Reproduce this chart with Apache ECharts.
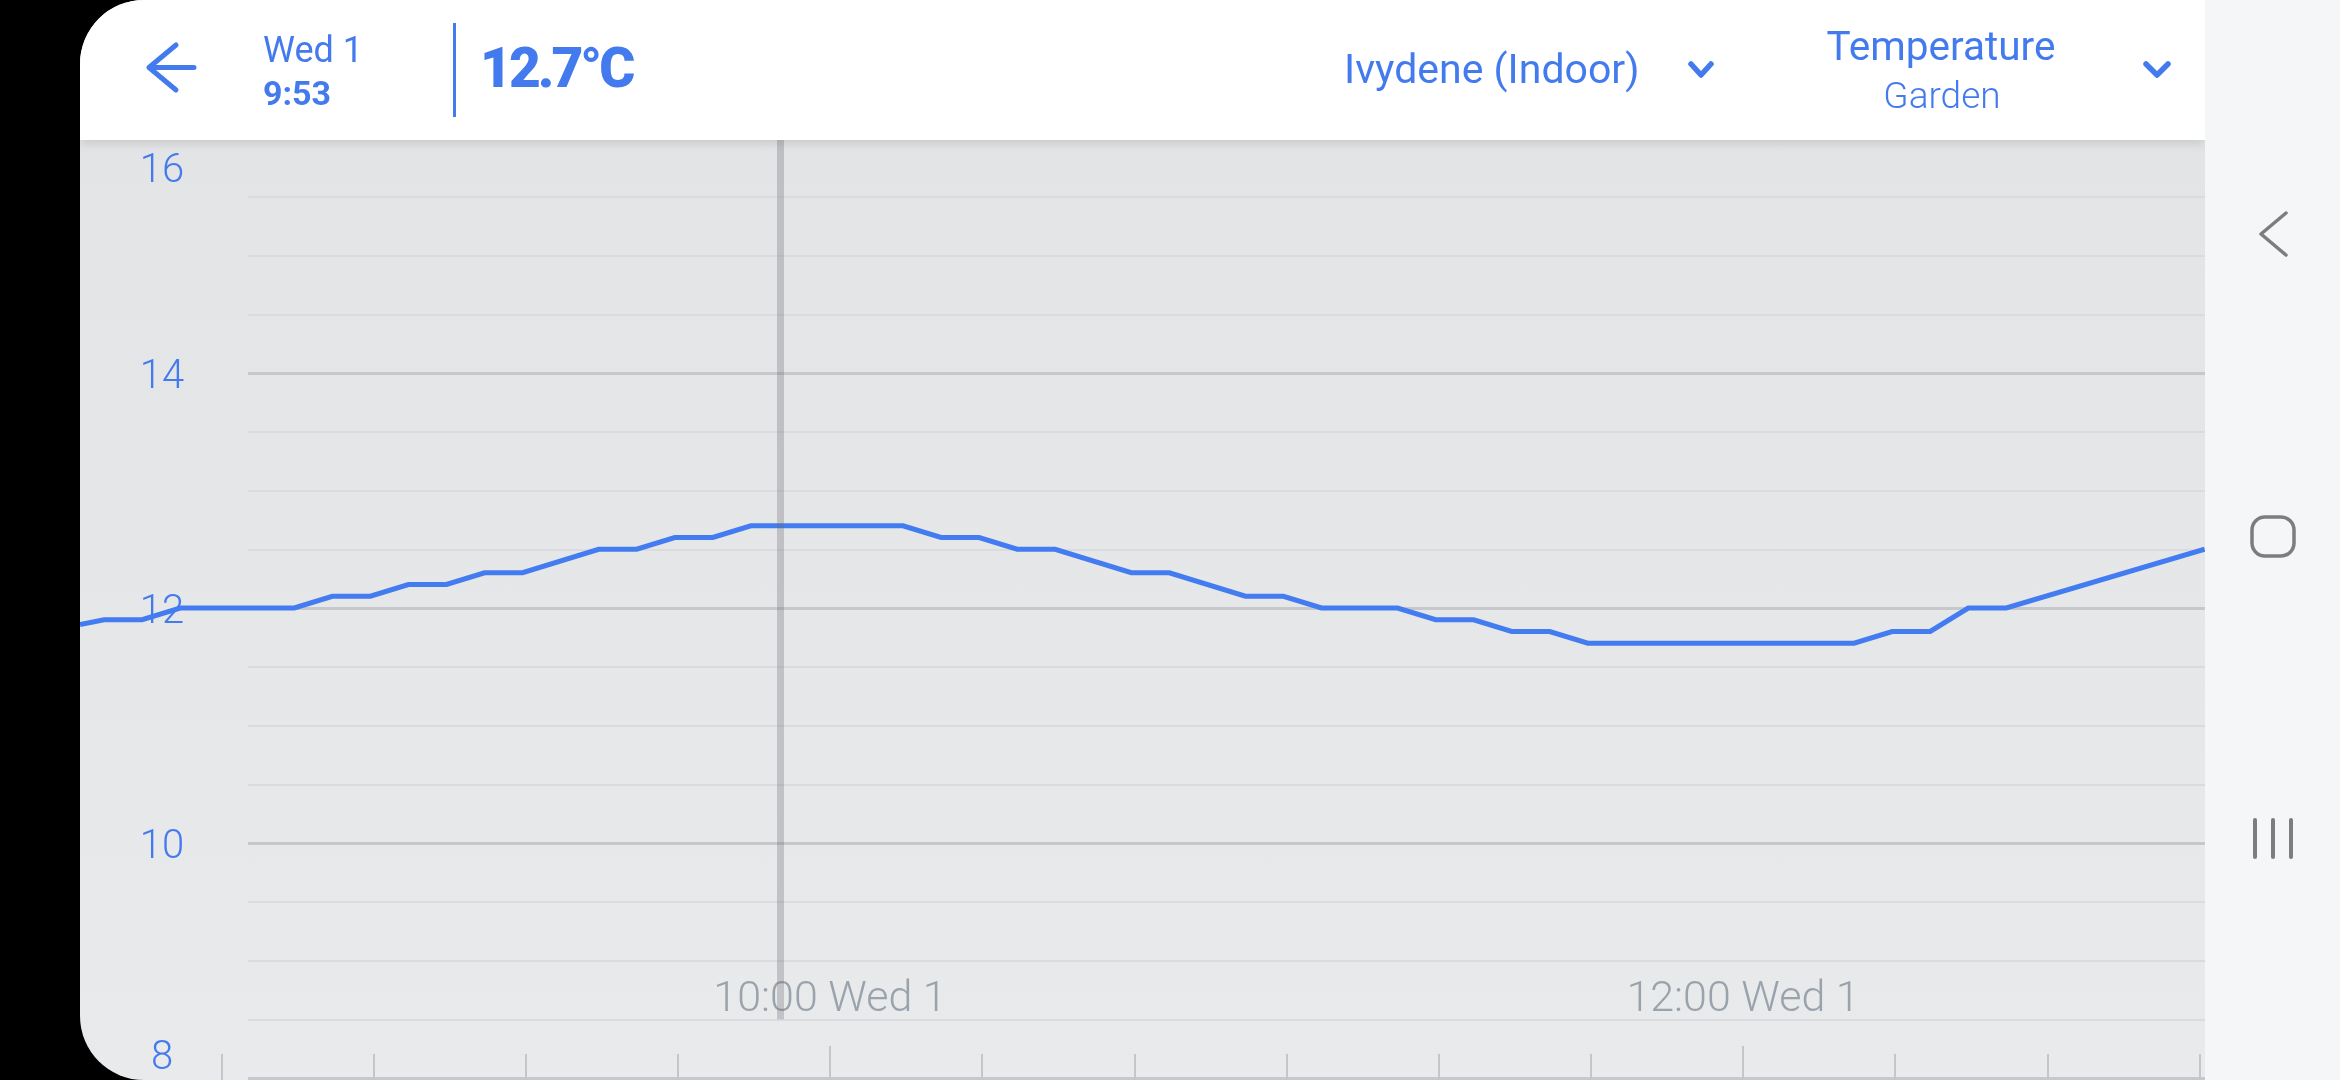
<!DOCTYPE html>
<html>
<head>
<meta charset="utf-8">
<script src="https://cdn.jsdelivr.net/npm/echarts@6.0.0/dist/echarts.min.js"></script>
<style>
html,body{margin:0;padding:0;background:#000;width:2340px;height:1080px;overflow:hidden;font-family:Roboto,'Noto Sans',sans-serif;}
#panel{position:absolute;left:80px;top:0;width:2125px;height:1080px;border-radius:64px 0 0 64px;overflow:hidden;background:linear-gradient(180deg,#e2e3e5 0%,#e9eaec 100%);}
#chart{position:absolute;left:0;top:0;width:2125px;height:1080px;}
#header{position:absolute;left:0;top:0;width:2125px;height:140px;background:#fff;box-shadow:0 3px 10px rgba(0,0,0,0.13);}
#header svg text{font-family:Roboto,'Noto Sans',sans-serif;fill:#437aee;}
#nav{position:absolute;left:2205px;top:0;width:135px;height:1080px;background:#f5f6f8;}
</style>
</head>
<body>
<div id="panel">
  <div id="chart"></div>
  <div id="header">
    <svg width="2125" height="140" xmlns="http://www.w3.org/2000/svg">
      <path d="M69 67.5 H114 M96 45 L69 67.5 L96 90" stroke="#437aee" stroke-width="5" fill="none" stroke-linecap="round" stroke-linejoin="round"/>
      <text x="183" y="62" font-size="36" font-weight="400">Wed 1</text>
      <text x="183" y="105" font-size="34" font-weight="700">9:53</text>
      <rect x="373" y="23" width="3" height="94" fill="#437aee"/>
      <text x="400" y="87" font-size="55" font-weight="900" letter-spacing="-3">12.7°C</text>
      <text x="1264" y="83" font-size="41" font-weight="400">Ivydene (Indoor)</text>
      <path d="M1611 64 L1621 75 L1631 64" stroke="#437aee" stroke-width="5.5" fill="none" stroke-linecap="round" stroke-linejoin="round"/>
      <text x="1861" y="60" font-size="40.5" font-weight="400" text-anchor="middle">Temperature</text>
      <text x="1862" y="108" font-size="37" font-weight="300" text-anchor="middle">Garden</text>
      <path d="M2066 64 L2077 75 L2088 64" stroke="#437aee" stroke-width="5.5" fill="none" stroke-linecap="round" stroke-linejoin="round"/>
    </svg>
  </div>
</div>
<div id="nav">
  <svg width="135" height="1080" xmlns="http://www.w3.org/2000/svg">
    <polyline points="81,213 56,234 81,255" stroke="#7d7d7d" stroke-width="3.5" fill="none" stroke-linecap="round" stroke-linejoin="round"/>
    <rect x="47" y="517" width="42" height="39" rx="13" stroke="#7d7d7d" stroke-width="3.5" fill="none"/>
    <rect x="48" y="818" width="4" height="41" rx="2" fill="#7d7d7d"/>
    <rect x="66" y="818" width="4" height="41" rx="2" fill="#7d7d7d"/>
    <rect x="84" y="818" width="4" height="41" rx="2" fill="#7d7d7d"/>
  </svg>
</div>
<script>
// ---- data ----
const viewStart = '08:21:26';
const viewEnd = '13:00:43';
const cursorTime = '09:53:25';
const tickTimes = ['08:40','09:00','09:20','09:40','10:00','10:20','10:40','11:00','11:20','11:40','12:00','12:20','12:40','13:00'];
const labelTimes = ['10:00','12:00'];
const dayLabel = 'Wed 1';
const readTimes = ['08:21:26','08:24:36','08:29:36','08:34:36','08:49:36','08:54:36','08:59:36','09:04:36','09:09:36','09:14:36','09:19:36','09:29:36','09:34:36','09:39:36','09:44:36','09:49:36','10:09:36','10:14:36','10:19:36','10:24:36','10:29:36','10:39:36','10:44:36','10:54:36','10:59:36','11:04:36','11:14:36','11:19:36','11:24:36','11:29:36','11:34:36','11:39:36','12:14:36','12:19:36','12:24:36','12:29:36','12:34:36','13:00:40'];
const tempC = [11.86,11.9,11.9,12.0,12.0,12.1,12.1,12.2,12.2,12.3,12.3,12.5,12.5,12.6,12.6,12.7,12.7,12.6,12.6,12.5,12.5,12.3,12.3,12.1,12.1,12.0,12.0,11.9,11.9,11.8,11.8,11.7,11.7,11.8,11.8,12.0,12.0,12.5];
const yMin = 8, yMax = 16, yMajorStep = 2, yMinorStep = 0.5;
const cursorBottom = 8.5;

function toMin(s){const p=s.split(':').map(Number);return p[0]*60+p[1]+(p[2]||0)/60;}
function fmtTime(v){const h=Math.floor(v/60+1e-9);const m=Math.round(v-h*60);return h+':'+(m<10?'0':'')+m+' '+dayLabel;}

const xMin = toMin(viewStart), xMax = toMin(viewEnd);
const BLUE = '#437cf0';
const seriesData = readTimes.map((t,i)=>[toMin(t), tempC[i]]);
const cursor = toMin(cursorTime);

const chart = echarts.init(document.getElementById('chart'), null, {renderer:'canvas'});
const yLabelFont = {fontFamily:'Roboto', fontSize:40, fontWeight:300, color:'#437aee'};
chart.setOption({
  animation:false,
  grid:[
    {left:0, right:0, top:138, height:940, outerBoundsMode:'none', containLabel:false},
    {left:168, right:0, top:138, height:940, outerBoundsMode:'none', containLabel:false}
  ],
  xAxis:[
    {gridIndex:0, type:'value', position:'bottom', min:xMin, max:xMax, offset:2,
     axisLine:{show:false}, splitLine:{show:false},
     axisTick:{show:true, inside:true, length:26, customValues:tickTimes.map(toMin), lineStyle:{color:'#c4c6c9', width:2}},
     axisLabel:{show:true, inside:true, margin:58, customValues:labelTimes.map(toMin), formatter:fmtTime,
       color:'#9aa3ac', fontFamily:'Roboto', fontSize:43, fontWeight:300}},
    {gridIndex:0, type:'value', position:'bottom', min:xMin, max:xMax, offset:2,
     axisLine:{show:false}, splitLine:{show:false},
     axisTick:{show:true, inside:true, length:34, customValues:labelTimes.map(toMin), lineStyle:{color:'#c4c6c9', width:2}},
     axisLabel:{show:false}},
    {gridIndex:1, type:'value', position:'bottom', min:xMin, max:xMax, show:false}
  ],
  yAxis:[
    {gridIndex:0, type:'value', position:'left', min:yMin, max:yMax, show:false},
    {gridIndex:1, type:'value', position:'left', min:yMin, max:yMax, interval:yMinorStep,
     axisLine:{show:false}, axisTick:{show:false}, axisLabel:{show:false},
     splitLine:{show:true, showMaxLine:false, lineStyle:{color:'#dadbde', width:2}}},
    {gridIndex:1, type:'value', position:'left', min:yMin, max:yMax, interval:yMajorStep,
     axisLine:{show:false}, axisTick:{show:false},
     splitLine:{show:true, showMaxLine:false, lineStyle:{color:'#c7c8cb', width:3}},
     axisLabel:Object.assign({show:true, align:'center', margin:86, showMinLabel:true, showMaxLabel:true,
       formatter:function(v){ if(v===yMax) return '{top|'+v+'}'; if(v===yMin) return '{bot|'+v+'}'; return '{mid|'+v+'}'; },
       rich:{
         top:Object.assign({padding:[68,0,0,0]}, yLabelFont),
         mid:Object.assign({padding:[10,0,0,0]}, yLabelFont),
         bot:Object.assign({padding:[0,0,38,0]}, yLabelFont)}
     }, yLabelFont)}
  ],
  series:[{
    type:'line', xAxisIndex:0, yAxisIndex:0, data:seriesData,
    showSymbol:false, symbol:'none', z:3,
    lineStyle:{color:BLUE, width:5, join:'miter'}, itemStyle:{color:BLUE},
    markLine:{silent:true, symbol:['none','none'], label:{show:false},
      lineStyle:{color:'rgba(105,107,112,0.30)', width:7, type:'solid'},
      emphasis:{disabled:true},
      data:[[{coord:[cursor, yMax]},{coord:[cursor, cursorBottom]}]]}
  }]
});
</script>
</body>
</html>
